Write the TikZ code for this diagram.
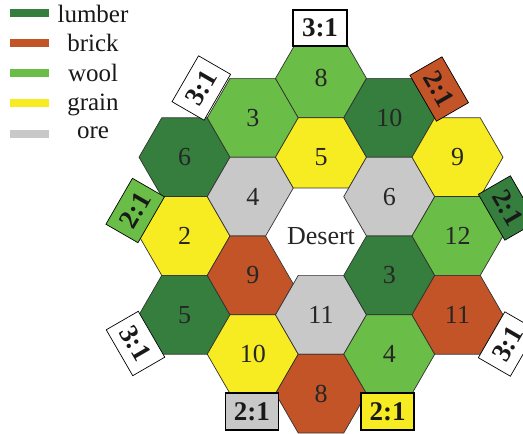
\documentclass[tikz,border=0pt]{standalone}
\usepackage{fontspec}
\setmainfont{Liberation Serif}
\usetikzlibrary{shapes.geometric,calc}
\definecolor{lumber}{RGB}{53,126,62}
\definecolor{brick}{RGB}{195,84,39}
\definecolor{wool}{RGB}{106,189,70}
\definecolor{grain}{RGB}{246,236,33}
\definecolor{ore}{RGB}{200,200,200}
\definecolor{edgegray}{RGB}{50,50,50}
\begin{document}
\begin{tikzpicture}[x=1pt,y=-1pt,
  hexa/.style={regular polygon, regular polygon sides=6, minimum size=91pt,
    inner sep=0pt, outer sep=0pt, draw=edgegray, line width=0.7pt,
    font=\fontsize{26}{26}\selectfont, text=black!85},
  port/.style={rectangle, draw=black, minimum width=53pt, minimum height=37pt,
    inner sep=0pt, line width=0.7pt, font=\bfseries\fontsize{27}{27}\selectfont,
    text=black!90},
  portflat/.style={port, line width=1.6pt},
  legbar/.style={rectangle, minimum width=39pt, minimum height=8pt, inner sep=0pt},
  legtext/.style={anchor=base, font=\fontsize{25}{25}\selectfont, text=black!90}]
\useasboundingbox (0,0) rectangle (523,434);
\clip (0,0) rectangle (523,434);
% hexes
\def\cx{321}\def\cy{236}
\def\dx{68.25}\def\dy{78.8}
\node[hexa, fill=lumber] (h6)  at (\cx-2*\dx, \cy-\dy) {6};
\node[hexa, fill=grain]  (h2)  at (\cx-2*\dx, \cy) {2};
\node[hexa, fill=lumber] (h5a) at (\cx-2*\dx, \cy+\dy) {5};
\node[hexa, fill=wool]   (h3a) at (\cx-\dx, \cy-1.5*\dy) {3};
\node[hexa, fill=ore]    (h4a) at (\cx-\dx, \cy-0.5*\dy) {4};
\node[hexa, fill=brick]  (h9a) at (\cx-\dx, \cy+0.5*\dy) {9};
\node[hexa, fill=grain]  (h10a) at (\cx-\dx, \cy+1.5*\dy) {10};
\node[hexa, fill=wool]   (h8a) at (\cx, \cy-2*\dy) {8};
\node[hexa, fill=grain]  (h5b) at (\cx, \cy-\dy) {5};
\node[hexa, fill=white]  (hd)  at (\cx, \cy) {Desert};
\node[hexa, fill=ore]    (h11a) at (\cx, \cy+\dy) {11};
\node[hexa, fill=brick]  (h8b) at (\cx, \cy+2*\dy) {8};
\node[hexa, fill=lumber] (h10b) at (\cx+\dx, \cy-1.5*\dy) {10};
\node[hexa, fill=ore]    (h6b) at (\cx+\dx, \cy-0.5*\dy) {6};
\node[hexa, fill=lumber] (h3b) at (\cx+\dx, \cy+0.5*\dy) {3};
\node[hexa, fill=wool]   (h4b) at (\cx+\dx, \cy+1.5*\dy) {4};
\node[hexa, fill=grain]  (h9b) at (\cx+2*\dx, \cy-\dy) {9};
\node[hexa, fill=wool]   (h12) at (\cx+2*\dx, \cy) {12};
\node[hexa, fill=brick]  (h11b) at (\cx+2*\dx, \cy+\dy) {11};
% ports
\node[portflat, fill=white, minimum width=54pt, minimum height=36pt] (p1) at (320,28) {3:1};
\node[port, fill=white, rotate=60]  (p2) at (201.3,88) {3:1};
\node[port, fill=brick, rotate=-60] (p3) at (439.2,89) {2:1};
\node[port, fill=lumber, rotate=-60] (p4) at (507.6,208) {2:1};
\node[port, fill=white, rotate=60]  (p5) at (507.6,344) {3:1};
\node[portflat, fill=grain] (p6) at (387.7,411.3) {2:1};
\node[portflat, fill=ore]   (p7) at (251.8,411.3) {2:1};
\node[port, fill=white, rotate=-60] (p8) at (135.5,343.5) {3:1};
\node[port, fill=wool, rotate=60]   (p9) at (135.2,210.5) {2:1};
% legend
\node[legbar, fill=lumber] (l1) at (29,13.3) {};
\node[legbar, fill=brick]  (l2) at (29,43.3) {};
\node[legbar, fill=wool]   (l3) at (29,73.3) {};
\node[legbar, fill=grain]  (l4) at (29,103.3) {};
\node[legbar, fill=ore]    (l5) at (29,134) {};
\node[legtext] (t1) at (93,22.5) {lumber};
\node[legtext] (t2) at (93,51.7) {brick};
\node[legtext] (t3) at (93,81.5) {wool};
\node[legtext] (t4) at (93,110.5) {grain};
\node[legtext] (t5) at (93,138.5) {ore};
\end{tikzpicture}
\end{document}
